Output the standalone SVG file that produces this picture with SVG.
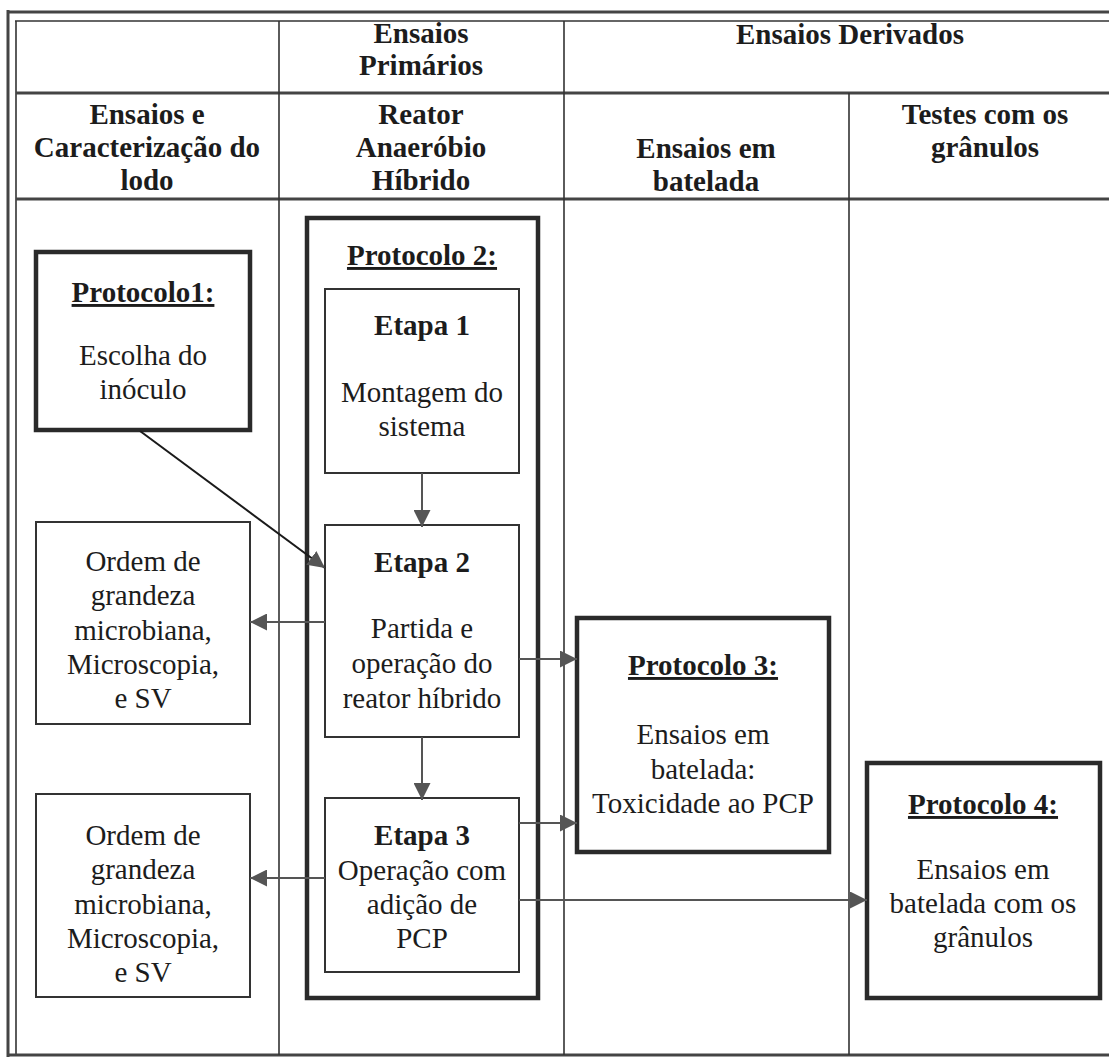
<svg xmlns="http://www.w3.org/2000/svg" width="1109" height="1059" viewBox="0 0 1109 1059">
<defs>
<style>
.t{font-family:"Liberation Serif",Tinos,"Times New Roman","DejaVu Serif",serif;font-size:29px;fill:#1c1c1c;text-anchor:middle}
.b{font-weight:bold}
.u{text-decoration:underline}
.thick{fill:#fff;stroke:#2a2a2a;stroke-width:4.5}
.thin{fill:#fff;stroke:#333;stroke-width:2}
.grid{stroke:#333;stroke-width:1.6;fill:none}
.hgrid{stroke:#444;stroke-width:3;fill:none}
.conn{stroke:#555;stroke-width:2;fill:none;marker-end:url(#ah)}
.diag{stroke:#1a1a1a;stroke-width:2;fill:none;marker-end:url(#ah)}
</style>
<marker id="ah" viewBox="0 0 10 10" refX="10" refY="5" markerUnits="userSpaceOnUse" markerWidth="17" markerHeight="17" orient="auto">
<path d="M0,0 L10,5 L0,10 z" fill="#555"/>
</marker>
</defs>
<rect width="1109" height="1059" fill="#fff"/>
<g id="frame">
<line class="hgrid" x1="7" y1="12" x2="1109" y2="12"/>
<line class="grid" x1="15" y1="21" x2="1109" y2="21" stroke-width="2"/>
<line class="hgrid" x1="8" y1="10" x2="8" y2="1057"/>
<line class="grid" x1="16" y1="21" x2="16" y2="1055" stroke-width="2.5"/>
<line class="hgrid" x1="8" y1="1055" x2="1109" y2="1055"/>
<line class="hgrid" x1="16" y1="93" x2="1109" y2="93"/>
<line class="hgrid" x1="16" y1="199" x2="1109" y2="199"/>
<line class="grid" x1="279" y1="21" x2="279" y2="1055"/>
<line class="grid" x1="564" y1="21" x2="564" y2="1055"/>
<line class="grid" x1="849" y1="93" x2="849" y2="1055"/>
</g>
<g id="headers">
<text class="t b" x="421" y="43">Ensaios</text>
<text class="t b" x="421" y="75">Primários</text>
<text class="t b" x="850" y="44">Ensaios Derivados</text>
<text class="t b" x="147" y="124">Ensaios e</text>
<text class="t b" x="147" y="157">Caracterização do</text>
<text class="t b" x="147" y="190">lodo</text>
<text class="t b" x="421" y="124">Reator</text>
<text class="t b" x="421" y="157">Anaeróbio</text>
<text class="t b" x="421" y="190">Híbrido</text>
<text class="t b" x="706" y="158">Ensaios em</text>
<text class="t b" x="706" y="191">batelada</text>
<text class="t b" x="985" y="124">Testes com os</text>
<text class="t b" x="985" y="157">grânulos</text>
</g>
<g id="protocolo1">
<rect class="thick" x="36" y="252" width="214" height="178"/>
<text class="t b u" x="143" y="302">Protocolo1:</text>
<text class="t" x="143" y="365">Escolha do</text>
<text class="t" x="143" y="399">inóculo</text>
</g>
<g id="ordem1">
<rect class="thin" x="36" y="522" width="214" height="202"/>
<text class="t" x="143" y="571">Ordem de</text>
<text class="t" x="143" y="605">grandeza</text>
<text class="t" x="143" y="640">microbiana,</text>
<text class="t" x="143" y="674">Microscopia,</text>
<text class="t" x="143" y="708">e SV</text>
</g>
<g id="ordem2">
<rect class="thin" x="36" y="794" width="214" height="203"/>
<text class="t" x="143" y="845">Ordem de</text>
<text class="t" x="143" y="879">grandeza</text>
<text class="t" x="143" y="914">microbiana,</text>
<text class="t" x="143" y="948">Microscopia,</text>
<text class="t" x="143" y="982">e SV</text>
</g>
<g id="protocolo2">
<rect class="thick" x="307" y="218" width="231" height="780"/>
<text class="t b u" x="422" y="265">Protocolo 2:</text>
</g>
<g id="etapa1">
<rect class="thin" x="325" y="289" width="194" height="184"/>
<text class="t b" x="422" y="335">Etapa 1</text>
<text class="t" x="422" y="402">Montagem do</text>
<text class="t" x="422" y="436">sistema</text>
</g>
<g id="etapa2">
<rect class="thin" x="325" y="525" width="194" height="212"/>
<text class="t b" x="422" y="572">Etapa 2</text>
<text class="t" x="422" y="638">Partida e</text>
<text class="t" x="422" y="673">operação do</text>
<text class="t" x="422" y="708">reator híbrido</text>
</g>
<g id="etapa3">
<rect class="thin" x="325" y="798" width="194" height="174"/>
<text class="t b" x="422" y="845">Etapa 3</text>
<text class="t" x="422" y="880">Operação com</text>
<text class="t" x="422" y="914">adição de</text>
<text class="t" x="422" y="948">PCP</text>
</g>
<g id="protocolo3">
<rect class="thick" x="577" y="618" width="252" height="234"/>
<text class="t b u" x="703" y="675">Protocolo 3:</text>
<text class="t" x="703" y="744">Ensaios em</text>
<text class="t" x="703" y="779">batelada:</text>
<text class="t" x="703" y="813">Toxicidade ao PCP</text>
</g>
<g id="protocolo4">
<rect class="thick" x="867" y="763" width="233" height="235"/>
<text class="t b u" x="983" y="814">Protocolo 4:</text>
<text class="t" x="983" y="879">Ensaios em</text>
<text class="t" x="983" y="913">batelada com os</text>
<text class="t" x="983" y="947">grânulos</text>
</g>
<g id="connectors">
<line class="diag" x1="140" y1="431" x2="325" y2="568"/>
<line class="conn" x1="422" y1="473" x2="422" y2="527"/>
<line class="conn" x1="325" y1="622" x2="250" y2="622"/>
<line class="conn" x1="519" y1="659" x2="577" y2="659"/>
<line class="conn" x1="422" y1="737" x2="422" y2="800"/>
<line class="conn" x1="325" y1="878" x2="250" y2="878"/>
<line class="conn" x1="519" y1="823" x2="577" y2="823"/>
<line class="conn" x1="519" y1="900" x2="867" y2="900"/>
</g>
</svg>
